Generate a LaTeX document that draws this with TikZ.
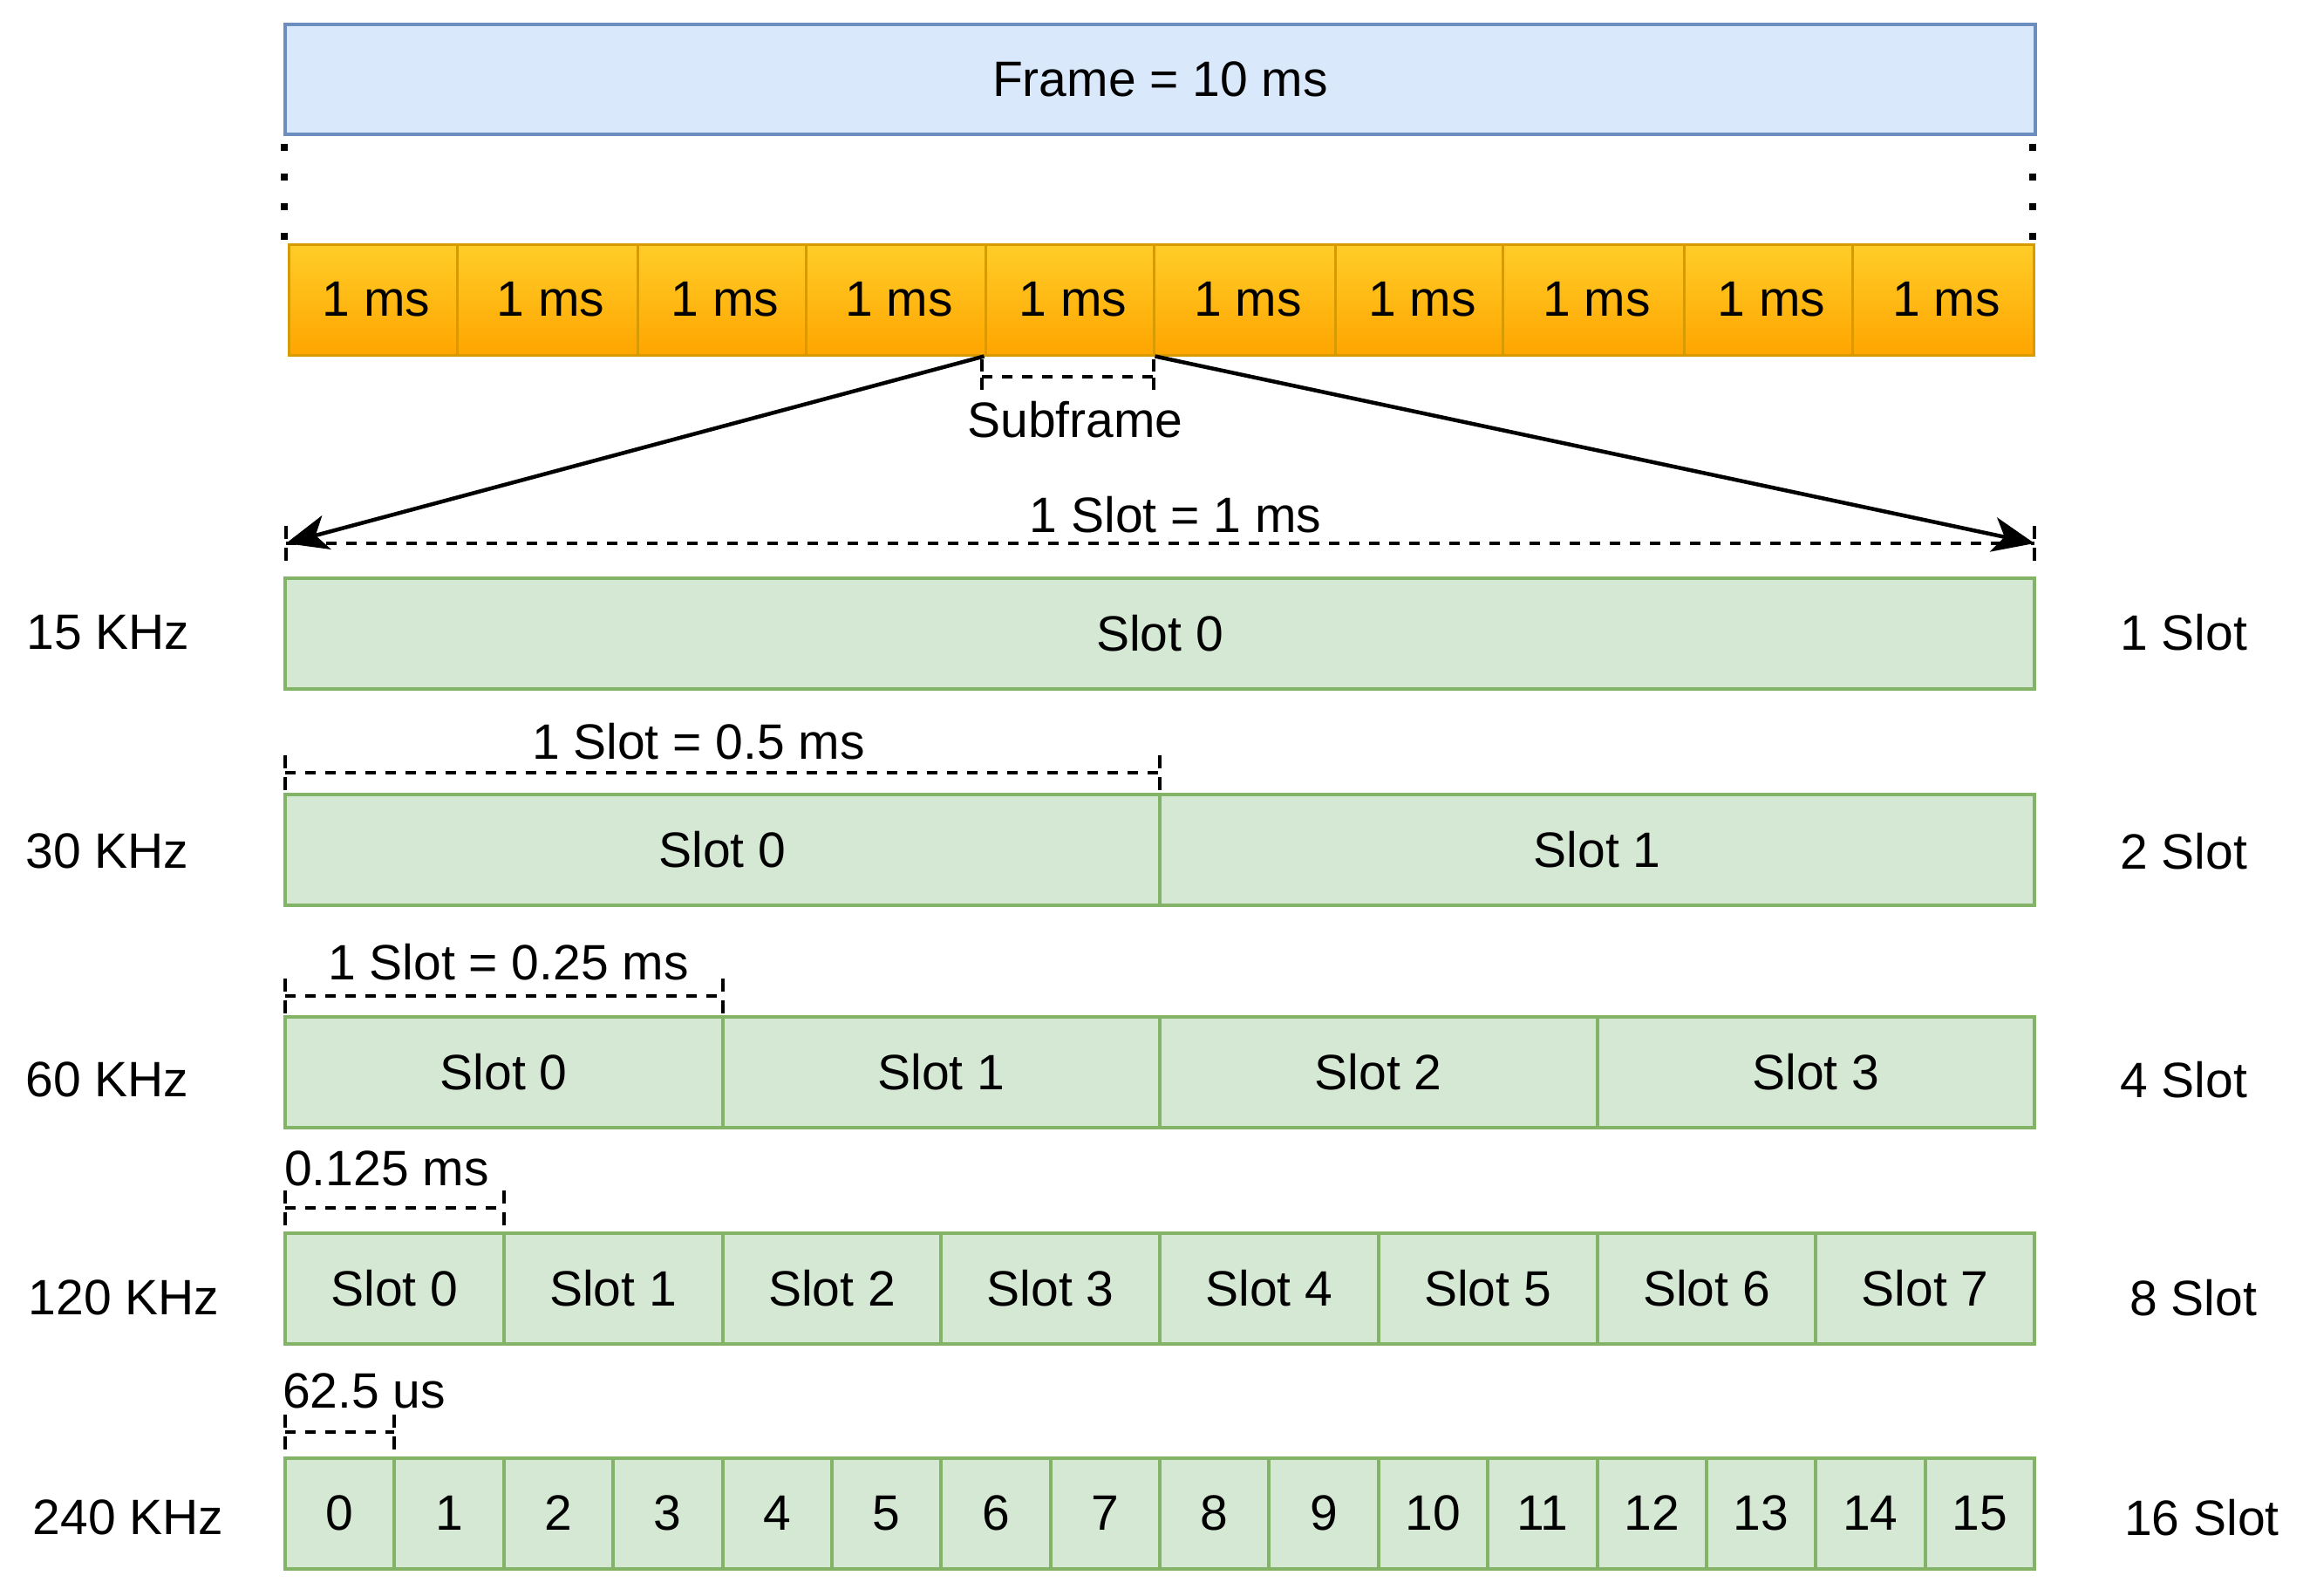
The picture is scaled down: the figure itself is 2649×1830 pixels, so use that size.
\documentclass[tikz,border=0pt]{standalone}
\usepackage{fontspec}
\setmainfont{Liberation Sans}
\usetikzlibrary{arrows.meta}
\definecolor{frameFill}{HTML}{DAE8FC}
\definecolor{frameDraw}{HTML}{6C8EBF}
\definecolor{orTop}{HTML}{FFCD28}
\definecolor{orBot}{HTML}{FFA500}
\definecolor{orDraw}{HTML}{D79B00}
\definecolor{slotFill}{HTML}{D5E8D4}
\definecolor{slotDraw}{HTML}{82B366}
\begin{document}
\begin{tikzpicture}[x=1pt,y=-1pt,
  every node/.style={font=\fontsize{57}{62}\selectfont, inner sep=0pt},
  framebox/.style={draw=frameDraw, fill=frameFill, line width=3.5pt, minimum height=126pt},
  mscell/.style={draw=orDraw, top color=orTop, bottom color=orBot, line width=3pt, minimum height=127pt},
  slotbox/.style={draw=slotDraw, fill=slotFill, line width=4pt, minimum height=127pt},
  dimline/.style={line width=4pt, dash pattern=on 12pt off 11pt},
  tickline/.style={line width=4pt, dash pattern=on 15pt off 10pt},
  dotline/.style={line width=8pt, dash pattern=on 8pt off 26pt},
  zoomarrow/.style={line width=4.5pt, -{Stealth[length=48pt,width=40pt,inset=13pt]}}
]
\useasboundingbox[fill=white] (0,0) rectangle (2649,1830);

% Frame
\node[framebox, minimum width=2007pt] (frame) at (1330.5,91) {Frame = 10 ms};

% dotted connectors
\coordinate (dotLa) at (326,165);
\coordinate (dotLb) at (326,276);
\coordinate (dotRa) at (2331,165);
\coordinate (dotRb) at (2331,276);
\draw[dotline] (dotLa) -- (dotLb);
\draw[dotline] (dotRa) -- (dotRb);

% 1 ms cells
\foreach \a/\b [count=\i] in {331/524,524/731,731/924,924/1130,1130/1323,1323/1531,1531/1723,1723/1931,1931/2124,2124/2332}
  \node[mscell, minimum width={(\b-\a)*1pt}] (ms\i) at ({(\a+\b)/2},343.5) {\hspace{8pt}1 ms};

% Subframe bracket
\coordinate (sfA) at (1126,432);
\coordinate (sfB) at (1323,432);
\draw[dimline] (sfA) -- (sfB);
\draw[line width=4pt, dash pattern=on 14pt off 7pt] (sfA) ++(0,-20) -- ++(0,35);
\draw[line width=4pt, dash pattern=on 14pt off 7pt] (sfB) ++(0,-20) -- ++(0,35);
\node (subframe) at (1233,481) {Subframe};

% zoom arrows
\coordinate (dimL) at (328,623);
\coordinate (dimR) at (2333,623);
\draw[dimline] (dimL) -- (dimR);
\draw[tickline] (dimL) ++(0,-20) -- ++(0,40);
\draw[tickline] (dimR) ++(0,-20) -- ++(0,40);
\draw[zoomarrow] (ms5.south west) -- (dimL);
\draw[zoomarrow] (ms5.south east) -- (dimR);
\node (t1) at (1348,590) {1 Slot = 1 ms};

% 15 KHz
\node[slotbox, minimum width=2006pt] (a0) at (1330,726.5) {Slot 0};
\node (lf1) at (124,725) {15 KHz};
\node (rs1) at (2504,725) {1 Slot};

% 30 KHz
\coordinate (d2a) at (327,886);
\coordinate (d2b) at (1330,886);
\draw[dimline] (d2a) -- (d2b);
\draw[tickline] (d2a) ++(0,-20) -- ++(0,40);
\draw[tickline] (d2b) ++(0,-20) -- ++(0,40);
\node (t2) at (801,850) {1 Slot = 0.5 ms};
\foreach \i in {0,1}
  \node[slotbox, minimum width=1003pt] (b\i) at ({327+501.5+\i*1003},974) {Slot \i};
\node (lf2) at (123,976) {30 KHz};
\node (rs2) at (2504,976) {2 Slot};

% 60 KHz
\coordinate (d3a) at (327,1142);
\coordinate (d3b) at (829,1142);
\draw[dimline] (d3a) -- (d3b);
\draw[tickline] (d3a) ++(0,-20) -- ++(0,40);
\draw[tickline] (d3b) ++(0,-20) -- ++(0,40);
\node (t3) at (583,1103) {1 Slot = 0.25 ms};
\foreach \i in {0,...,3}
  \node[slotbox, minimum width=501.5pt] (c\i) at ({327+250.75+\i*501.5},1229.5) {Slot \i};
\node (lf3) at (123,1238) {60 KHz};
\node (rs3) at (2504,1238) {4 Slot};

% 120 KHz
\coordinate (d4a) at (327,1385);
\coordinate (d4b) at (578,1385);
\draw[dimline] (d4a) -- (d4b);
\draw[tickline] (d4a) ++(0,-20) -- ++(0,40);
\draw[tickline] (d4b) ++(0,-20) -- ++(0,40);
\node[anchor=west] (t4) at (326,1340) {0.125 ms};
\foreach \i in {0,...,7}
  \node[slotbox, minimum width=250.75pt] (e\i) at ({327+125.375+\i*250.75},1477.5) {Slot \i};
\node (lf4) at (142,1488) {120 KHz};
\node (rs4) at (2515,1488) {8 Slot};

% 240 KHz
\coordinate (d5a) at (327,1642);
\coordinate (d5b) at (452,1642);
\draw[dimline] (d5a) -- (d5b);
\draw[tickline] (d5a) ++(0,-20) -- ++(0,40);
\draw[tickline] (d5b) ++(0,-20) -- ++(0,40);
\node[anchor=west] (t5) at (324,1595) {62.5 us};
\foreach \i in {0,...,15}
  \node[slotbox, minimum width=125.375pt] (f\i) at ({327+62.6875+\i*125.375},1735) {\i};
\node (lf5) at (147,1740) {240 KHz};
\node (rs5) at (2525,1740) {16 Slot};
\end{tikzpicture}
\end{document}
